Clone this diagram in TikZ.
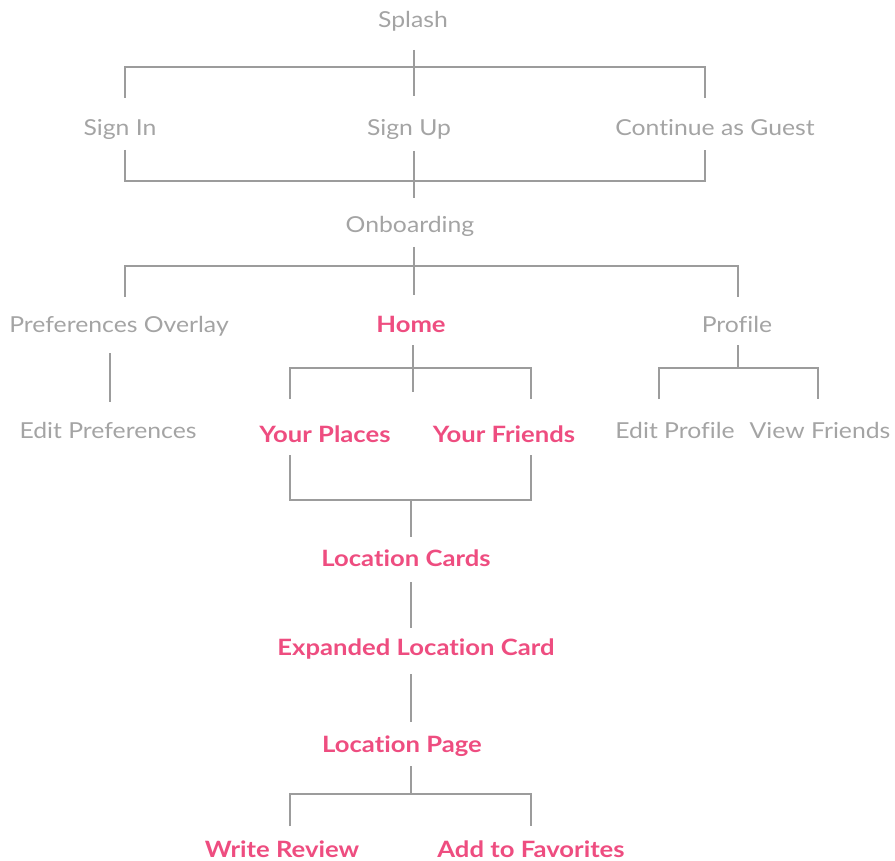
\documentclass[tikz,border=0pt]{standalone}
\usepackage{fontspec}
\setmainfont[Ligatures=NoCommon,FakeStretch=1.125,BoldFeatures={FakeStretch=1.14}]{Lato}
\definecolor{ink}{HTML}{A4A4A4}
\definecolor{rule}{HTML}{9C9C9C}
\definecolor{hot}{HTML}{EE4D80}
\begin{document}
\begin{tikzpicture}[x=1pt,y=-1pt,
  screen/.style={text=ink,font=\fontsize{22}{26}\selectfont,inner sep=0pt,anchor=base},
  flow/.style={text=hot,font=\fontsize{22.5}{26}\selectfont\bfseries,inner sep=0pt,anchor=base},
  link/.style={draw=rule,line width=1.4pt}]
\useasboundingbox (0,0) rectangle (895,861);

% screens (baseline positions)
\node[screen] (splash)    at (413,28)  {Splash};
\node[screen] (signin)    at (120,136) {Sign In};
\node[screen] (signup)    at (409,136) {Sign Up};
\node[screen] (guest)     at (715,136) {Continue as Guest};
\node[screen] (onb)       at (410,233) {Onboarding};
\node[screen] (prefs)     at (119,333) {Preferences Overlay};
\node[flow]   (home)      at (411,333) {Home};
\node[screen] (profile)   at (737,333) {Profile};
\node[screen] (editprefs) at (108,438) {Edit Preferences};
\node[flow]   (places)    at (325,442) {Your Places};
\node[flow]   (friends)   at (504,442) {Your Friends};
\node[screen] (editprof)  at (675,438) {Edit Profile};
\node[screen] (viewfr)    at (820,438) {View Friends};
\node[flow]   (cards)     at (406,566) {Location Cards};
\node[flow]   (expanded)  at (416,655) {Expanded Location Card};
\node[flow]   (page)      at (402,752) {Location Page};
\node[flow]   (review)    at (282,857) {Write Review};
\node[flow]   (fav)       at (531,857) {Add to Favorites};

% junction points of the brackets
\coordinate (a)  at (414,67);
\coordinate (al) at (125,67);
\coordinate (ar) at (705,67);
\coordinate (b)  at (414,181);
\coordinate (bl) at (125,181);
\coordinate (br) at (705,181);
\coordinate (c)  at (414,266);
\coordinate (cl) at (125,266);
\coordinate (cr) at (738,266);
\coordinate (px) at (110,353);
\coordinate (d)  at (413,368);
\coordinate (dl) at (290,368);
\coordinate (dr) at (531,368);
\coordinate (dend) at (413,392);
\coordinate (e)  at (738,368);
\coordinate (el) at (659,368);
\coordinate (er) at (818,368);
\coordinate (f)  at (411,500);
\coordinate (fl) at (290,500);
\coordinate (fr) at (531,500);
\coordinate (g)  at (411,794);
\coordinate (gl) at (290,794);
\coordinate (gr) at (531,794);

% Splash -> sign in / sign up / guest
\draw[link] ([yshift=-22pt]splash.base -| a) -- ([yshift=40pt]signup.base -| a);
\draw[link] ([yshift=38pt]signin.base -| al) -- (al) -- (ar) -- ([yshift=38pt]guest.base -| ar);

% sign in / sign up / guest -> Onboarding
\draw[link] ([yshift=-14pt]signin.base -| bl) -- (bl) -- (br) -- ([yshift=-14pt]guest.base -| br);
\draw[link] ([yshift=-15pt]signup.base -| b) -- ([yshift=35pt]onb.base -| b);

% Onboarding -> preferences / home / profile
\draw[link] ([yshift=-14pt]onb.base -| c) -- ([yshift=38pt]home.base -| c);
\draw[link] ([yshift=36pt]prefs.base -| cl) -- (cl) -- (cr) -- ([yshift=36pt]profile.base -| cr);

% Preferences Overlay -> Edit Preferences
\draw[link] ([yshift=-20pt]prefs.base -| px) -- ([yshift=36pt]editprefs.base -| px);

% Home -> your places / your friends
\draw[link] ([yshift=-12pt]home.base -| d) -- (dend);
\draw[link] ([yshift=43pt]places.base -| dl) -- (dl) -- (dr) -- ([yshift=43pt]friends.base -| dr);

% Profile -> edit profile / view friends
\draw[link] ([yshift=-12pt]profile.base -| e) -- (e);
\draw[link] ([yshift=39pt]editprof.base -| el) -- (el) -- (er) -- ([yshift=39pt]viewfr.base -| er);

% your places / your friends -> Location Cards
\draw[link] ([yshift=-13pt]places.base -| fl) -- (fl) -- (fr) -- ([yshift=-13pt]friends.base -| fr);
\draw[link] (f) -- ([yshift=29pt]cards.base -| f);

% Location Cards -> Expanded Location Card -> Location Page
\draw[link] ([yshift=-16pt]cards.base -| f) -- ([yshift=27pt]expanded.base -| f);
\draw[link] ([yshift=-19pt]expanded.base -| f) -- ([yshift=30pt]page.base -| f);

% Location Page -> write review / add to favorites
\draw[link] ([yshift=-14pt]page.base -| g) -- (g);
\draw[link] ([yshift=31pt]review.base -| gl) -- (gl) -- (gr) -- ([yshift=31pt]fav.base -| gr);
\end{tikzpicture}
\end{document}
